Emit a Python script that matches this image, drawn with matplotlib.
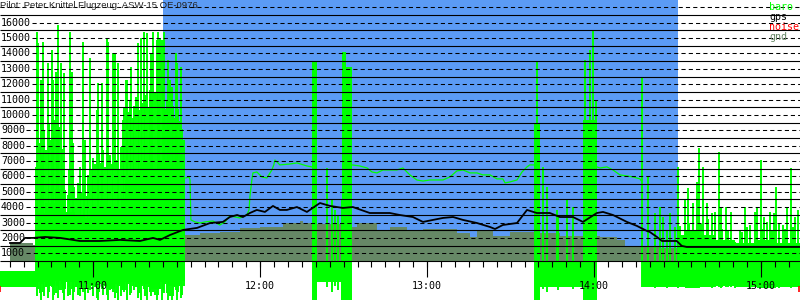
import numpy as np
import matplotlib
matplotlib.use("Agg")
import matplotlib.pyplot as plt

# time in minutes after midnight, heights in ft
view_t = (626.5, 914.0)
view_h = (-2040, 17480)
task_t = (685.0, 870.0)

gps_t = [630.1, 633.7, 635.5, 638.4, 642.7, 648.1, 650.6, 655.2, 662.4, 669.6, 676.8, 681.5,
         684.0, 687.6, 692.3, 697.3, 702.0, 706.6, 709.1, 711.7, 713.8, 716.3, 718.8, 721.7,
         724.6, 727.1, 729.6, 733.2, 736.8, 740.4, 741.5, 745.1, 749.7, 753.3, 759.4, 763.0,
         766.6, 770.2, 774.9, 778.5, 782.1, 785.7, 789.3, 792.9, 797.9, 802.6, 804.4, 807.2,
         812.3, 815.9, 819.4, 824.1, 827.7, 832.4, 836.0, 841.0, 843.2, 846.8, 851.8, 855.4,
         859.0, 860.0, 862.6, 864.4, 869.7, 871.5, 873.3, 914.0]
gps_h = [1670, 1670, 2000, 2000, 2060, 2000, 1930, 1800, 1800, 1870, 1800, 2000,
         1870, 2190, 2520, 2650, 2970, 3040, 3360, 3490, 3360, 3620, 3820, 3690,
         4080, 3820, 3820, 4010, 3690, 4140, 4270, 4080, 3950, 4010, 3620, 3620,
         3620, 3490, 3360, 3040, 3170, 3300, 3360, 3170, 2970, 2710, 2580, 2840,
         2970, 3820, 3620, 3620, 3360, 3360, 3040, 3620, 3690, 3490, 3040, 2780,
         2450, 2390, 2060, 1800, 1800, 1480, 1410, 1410]

gnd_t = [630.1, 638.4, 639.8, 648.1, 658.8, 669.6, 680.4, 684.0, 687.6, 693.0, 698.4, 705.5,
         712.7, 719.9, 728.2, 734.3, 735.4, 739.0, 745.1, 753.0, 754.8, 762.0, 766.6, 772.7,
         778.5, 790.7, 795.4, 797.9, 803.6, 809.7, 819.4, 827.7, 836.0, 842.1, 848.2, 851.1,
         857.2, 863.6, 870.8, 885.2, 899.6, 914.0]
gnd_h = [1670, 1540, 1540, 1350, 1480, 1410, 1540, 1870, 2130, 2190, 2320, 2390,
         2650, 2710, 2970, 3100, 2970, 2900, 2900, 2710, 2970, 2515, 2710, 2515,
         2580, 2320, 2060, 2515, 2130, 2390, 2320, 2130, 2130, 2060, 1870, 1410,
         1450, 1350, 1215, 1215, 1215, 1215]

# smooth baro track during the task
baro1_t = [693.3, 694.4, 694.8, 695.1, 696.6, 698.4, 700.2, 703.0, 705.5, 707.3, 709.1, 712.7,
           715.2, 716.0, 716.3, 717.0, 717.4, 718.8, 720.6, 722.4, 724.2, 724.9, 725.3, 727.1,
           730.7, 733.2, 736.8, 738.6]
baro1_h = [5900, 5970, 5770, 3170, 3040, 2970, 3040, 3100, 2840, 3040, 3430, 3300,
           3490, 3820, 4660, 5770, 6230, 6290, 5970, 5900, 6420, 6750, 7070, 6750,
           6810, 6880, 6680, 6620]
baro2_t = [753.0, 755.8, 758.4, 760.2, 762.0, 764.1, 769.1, 771.3, 773.8, 776.3, 778.5, 781.0,
           785.7, 788.2, 790.7, 792.9, 795.4, 797.9, 800.0, 802.6, 805.1, 807.2, 808.0, 809.7,
           812.3, 814.1, 815.9, 816.9, 818.7]
baro2_h = [6750, 6680, 6550, 6290, 6230, 6420, 6420, 6550, 6100, 5770, 5700, 5770,
           5770, 5970, 6360, 6420, 6230, 6230, 6100, 6100, 5840, 5840, 5580, 5640,
           5770, 6290, 6620, 6750, 6750]
baro3_t = [841.0, 842.1, 844.6, 846.8, 849.3, 851.8, 853.9, 856.5, 857.2]
baro3_h = [6620, 6550, 6620, 6420, 6100, 6030, 5970, 5840, 5640]

# noisy baro: dense bands (step) and single spikes
band_a_t = [626.5, 639.4, 642.7, 646.3, 648.8, 650.2, 653.4, 657.0, 658.8, 662.4, 665.3, 667.8,
            670.0, 671.4, 675.0, 676.8, 680.4, 684.0, 687.6, 691.2, 693.0]
band_a_hi = [-150, 3600, 4300, 5200, 4700, 3700, 3500, 3300, 3900, 4400, 4100, 3900,
             4600, 5800, 6300, 6900, 6500, 7000, 6600, 6000, 6000]
band_a_lo = [-1200, -900, -1100, -800, -1300, -900, -1200, -800, -1100, -900, -1300, -1000,
             -1400, -900, -1200, -1000, -1300, -900, -1100, -800, -800]
band_b1_t = [738.6, 740.4, 749.0, 749.4, 750.8, 753.0]
band_b1_hi = [13440, 500, 4470, 14100, 13100, 13100]
band_b1_lo = [-2040, -900, -2040, -2040, -2040, -2040]
band_b2_t = [818.7, 820.5, 836.0, 841.0]
band_b2_hi = [9470, 500, 9670, 9670]
band_b2_lo = [-2040, -1200, -2040, -2040]
band_c_t = [857.2, 870.1, 872.6, 877.6, 883.4, 890.6, 898.5, 905.3, 914.0]
band_c_hi = [500, 2190, 2520, 2190, 1870, 1670, 1870, 1670, 1670]
band_c_lo = [-1200, -1200, -1250, -1200, -1150, -1200, -1250, -1200, -1200]

spike_t = [639.8, 640.2, 641.2, 641.9, 643.7, 645.2, 645.5, 646.6, 647.3, 648.4, 649.5, 651.7,
           652.4, 652.7, 655.2, 656.3, 657.0, 658.8, 661.4, 661.7, 663.1, 665.0, 665.3, 667.1,
           667.8, 668.9, 671.8, 672.1, 673.6, 676.1, 677.2, 678.2, 679.3, 680.8, 681.5, 682.9,
           683.3, 684.0, 684.7, 685.4, 686.9, 687.6, 688.3, 689.7, 690.1, 691.5,
           639.6, 640.8, 641.5, 642.3, 643.0, 644.1, 644.8, 646.0, 646.9, 647.8, 648.7,
           649.1, 650.0, 650.9, 651.3, 653.0, 653.8, 654.6, 655.6, 656.7, 657.6, 658.3,
           659.4, 660.1, 660.8, 662.0, 662.7, 663.6, 664.3, 665.9, 666.6, 668.4, 669.3, 669.9,
           670.6, 671.2, 672.6, 673.2, 674.2, 674.8, 675.4, 676.5, 677.7, 678.7, 679.9, 680.3,
           681.1, 682.2, 683.7, 685.0, 685.9, 686.4, 687.2, 688.8, 689.3, 690.6, 691.1, 692.0,
           692.6,
           744.0, 745.8, 746.9, 747.9, 749.4,
           818.9, 819.4, 819.8, 820.2, 821.6, 823.0, 826.6, 827.0, 830.2, 832.4,
           836.7, 838.5, 839.6, 840.6,
           857.2, 859.3, 861.8, 863.6, 864.7, 866.2, 867.2, 869.0, 870.1, 872.6, 873.7, 875.5,
           876.9, 877.6, 879.1, 880.5, 882.3, 883.4, 884.8, 885.6, 887.3, 889.1, 890.6, 892.4,
           894.2, 896.0, 897.8, 898.5, 899.9, 901.0, 902.1, 903.2, 904.6, 905.3, 906.4, 907.8,
           909.3, 910.7, 912.1, 913.2,
           871.0, 874.0, 878.5, 881.0, 886.0, 888.0, 893.0, 895.0, 900.5, 903.8, 908.5, 911.4]
spike_top = [15400, 14680, 12270, 14750, 13360, 14220, 12270, 12790, 15840, 13360, 12730, 15400,
             12790, 8150, 6630, 14750, 8370, 13700, 10320, 12080, 12080, 15040, 14750, 14020,
             14020, 13360, 12270, 12270, 13130, 14680, 15000, 15400, 15330, 14020, 15400, 14870,
             15400, 15000, 14870, 15400, 13570, 12270, 11820, 14020, 13360, 13130,
             6600, 8200, 7400, 9000, 7700, 9500, 8400, 9700, 8800, 9200, 7800,
             5800, 5100, 4800, 6400, 5300, 4600, 5600, 4900, 5200, 4700, 6100,
             6400, 7200, 6800, 7500, 6900, 7700, 6600, 7400, 6800, 7100, 6500, 7900,
             9700, 10500, 10200, 11000, 9800, 10600, 11200, 10300, 10800, 11300, 10500, 11600,
             10900, 11400, 10700, 11800, 10400, 11000, 10200, 10600, 9800, 10400, 9600, 9100,
             8400,
             6550, 4470, 3820, 3500, 4470,
             9470, 13440, 9470, 8000, 6630, 5310, 3820, 3500, 4470, 4010,
             13570, 14220, 15530, 10970,
             12470, 5970, 3620, 4010, 3360, 2520, 3620, 2710, 6630, 4470, 5250, 4270,
             5640, 7850, 6630, 4270, 3620, 3690, 7590, 4010, 4010, 3690, 1740, 2520,
             4010, 2840, 3690, 4010, 7070, 3360, 3040, 3690, 3620, 5310, 2970, 2840,
             4010, 6550, 3360, 3820,
             2800, 3000, 2900, 3200, 2600, 2500, 2400, 2700, 2600, 2500, 2600, 2700]
spike_bot = [-1800, -1300, -2040, -1500, -1900, -1200, -2040, -1600, -1900, -1400, -2040, -1700,
             -1300, -2040, -1800, -1500, -2040, -1400, -1900, -2040, -1300, -1700, -2040, -1500,
             -1900, -2040, -1400, -2040, -1600, -1900, -2040, -1300, -2040, -1800, -1500, -2040,
             -1700, -1300, -2040, -1600, -2040, -1800, -2040, -1400, -2040, -1900,
             -1100, -1600, -1000, -1800, -1200, -1500, -1000, -1700, -1100, -1400, -1000,
             -1600, -1100, -1800, -1200, -1500, -1000, -1700, -1100, -1400, -1000, -1600,
             -1100, -1800, -1200, -1500, -1000, -1700, -1100, -1400, -1000, -1600, -1100, -1800,
             -1200, -1500, -1000, -1700, -1100, -1400, -1000, -1600, -1100, -1800, -1200, -1500,
             -1000, -1700, -1100, -1400, -1000, -1600, -1100, -1800, -1200, -1500, -1000, -1700,
             -1100,
             -1200, -1500, -1100, -1400, -1300,
             -2040, -2040, -2040, -1800, -1300, -1500, -1200, -1400, -1100, -1300,
             -2040, -2040, -2040, -2040,
             -1200, -1200, -1250, -1200, -1200, -1250, -1200, -1200, -1250, -1200, -1250, -1200,
             -1200, -1250, -1200, -1200, -1250, -1200, -1200, -1250, -1200, -1200, -1250, -1200,
             -1200, -1250, -1200, -1200, -1250, -1200, -1200, -1250, -1200, -1200, -1250, -1200,
             -1200, -1250, -1200, -1200,
             -1200, -1200, -1200, -1200, -1200, -1200, -1200, -1200, -1200, -1200, -1200, -1200]

noise_t = [626.6, 913.8]
noise_h = [-1350, -1350]

title = "Pilot: Peter Knittel Flugzeug: ASW-15 OE-0976"
legend = [("baro", "#00ff00"), ("gps", "black"), ("noise", "#ff0000"), ("gnd", "#668866")]

GREEN = "#00ff00"
BLUE = "#5b9bf5"
GND = "#668866"
MONO = "DejaVu Sans Mono"

fig = plt.figure(figsize=(8, 3), dpi=100)
ax = fig.add_axes([0, 0, 1, 1])
ax.set_xlim(*view_t)
ax.set_ylim(*view_h)
ax.axis("off")

ax.fill_between(task_t, 500, view_h[1], color=BLUE, lw=0, zorder=0)
ax.fill_between(gnd_t, 500, gnd_h, step="post", color=GND, lw=0, zorder=1)

for t, hi, lo in [(band_a_t, band_a_hi, band_a_lo), (band_b1_t, band_b1_hi, band_b1_lo),
                  (band_b2_t, band_b2_hi, band_b2_lo), (band_c_t, band_c_hi, band_c_lo)]:
    ax.fill_between(t, lo, hi, step="post", color=GREEN, lw=0, zorder=2)
ax.vlines(spike_t, spike_bot, spike_top, color=GREEN, lw=1.4, zorder=2)
for t, h in [(baro1_t, baro1_h), (baro2_t, baro2_h), (baro3_t, baro3_h)]:
    ax.plot(t, h, color=GREEN, lw=0.9, zorder=2)
ax.plot(noise_t, noise_h, ls="none", marker="|", ms=5, mew=1.2, color="#ff0000", zorder=2)

# horizontal grid: solid on the half thousands, dashed on the thousands
ytr = ax.get_yaxis_transform()
ax.hlines(np.arange(500, 17000, 1000), 0, 1, transform=ytr, color="black", lw=0.8, zorder=3)
for h in range(1000, 18000, 1000):
    if h <= 16000:
        ax.text(1 / 800, h, str(h), transform=ytr, ha="left", va="center",
                family=MONO, size=7.2, zorder=5)
        start = (2 + 6 * len(str(h))) / 800
    else:
        start = 0
    ax.hlines(h, start, 1, transform=ytr, color="black", lw=0.75,
              linestyles=(0, (4, 3)), zorder=3)

# time axis
xtr = ax.get_xaxis_transform()
minor = np.arange(630, 915, 5)
ax.vlines(minor, 0.11, 0.1303, transform=xtr, color="black", lw=0.8, zorder=3)
hours = np.arange(660, 915, 60)
ax.vlines(hours, 0.077, 0.1303, transform=xtr, color="black", lw=0.8, zorder=3)
for m in hours:
    ax.text(m, 0.046, f"{m // 60}:00", transform=xtr, ha="center", va="center",
            family=MONO, size=7.2, zorder=5)

ax.plot(gps_t, gps_h, color="black", lw=1.3, zorder=4)

fig.text(0.0, 1 - 6 / 300, title, ha="left", va="center", family="Liberation Sans",
         size=6.8, color="#222222")
for i, (name, col) in enumerate(legend):
    fig.text(769 / 800, 1 - (7 + 10 * i) / 300, name, ha="left", va="center",
             family=MONO, size=7.2, color=col)

fig.savefig("out.png", dpi=100)
